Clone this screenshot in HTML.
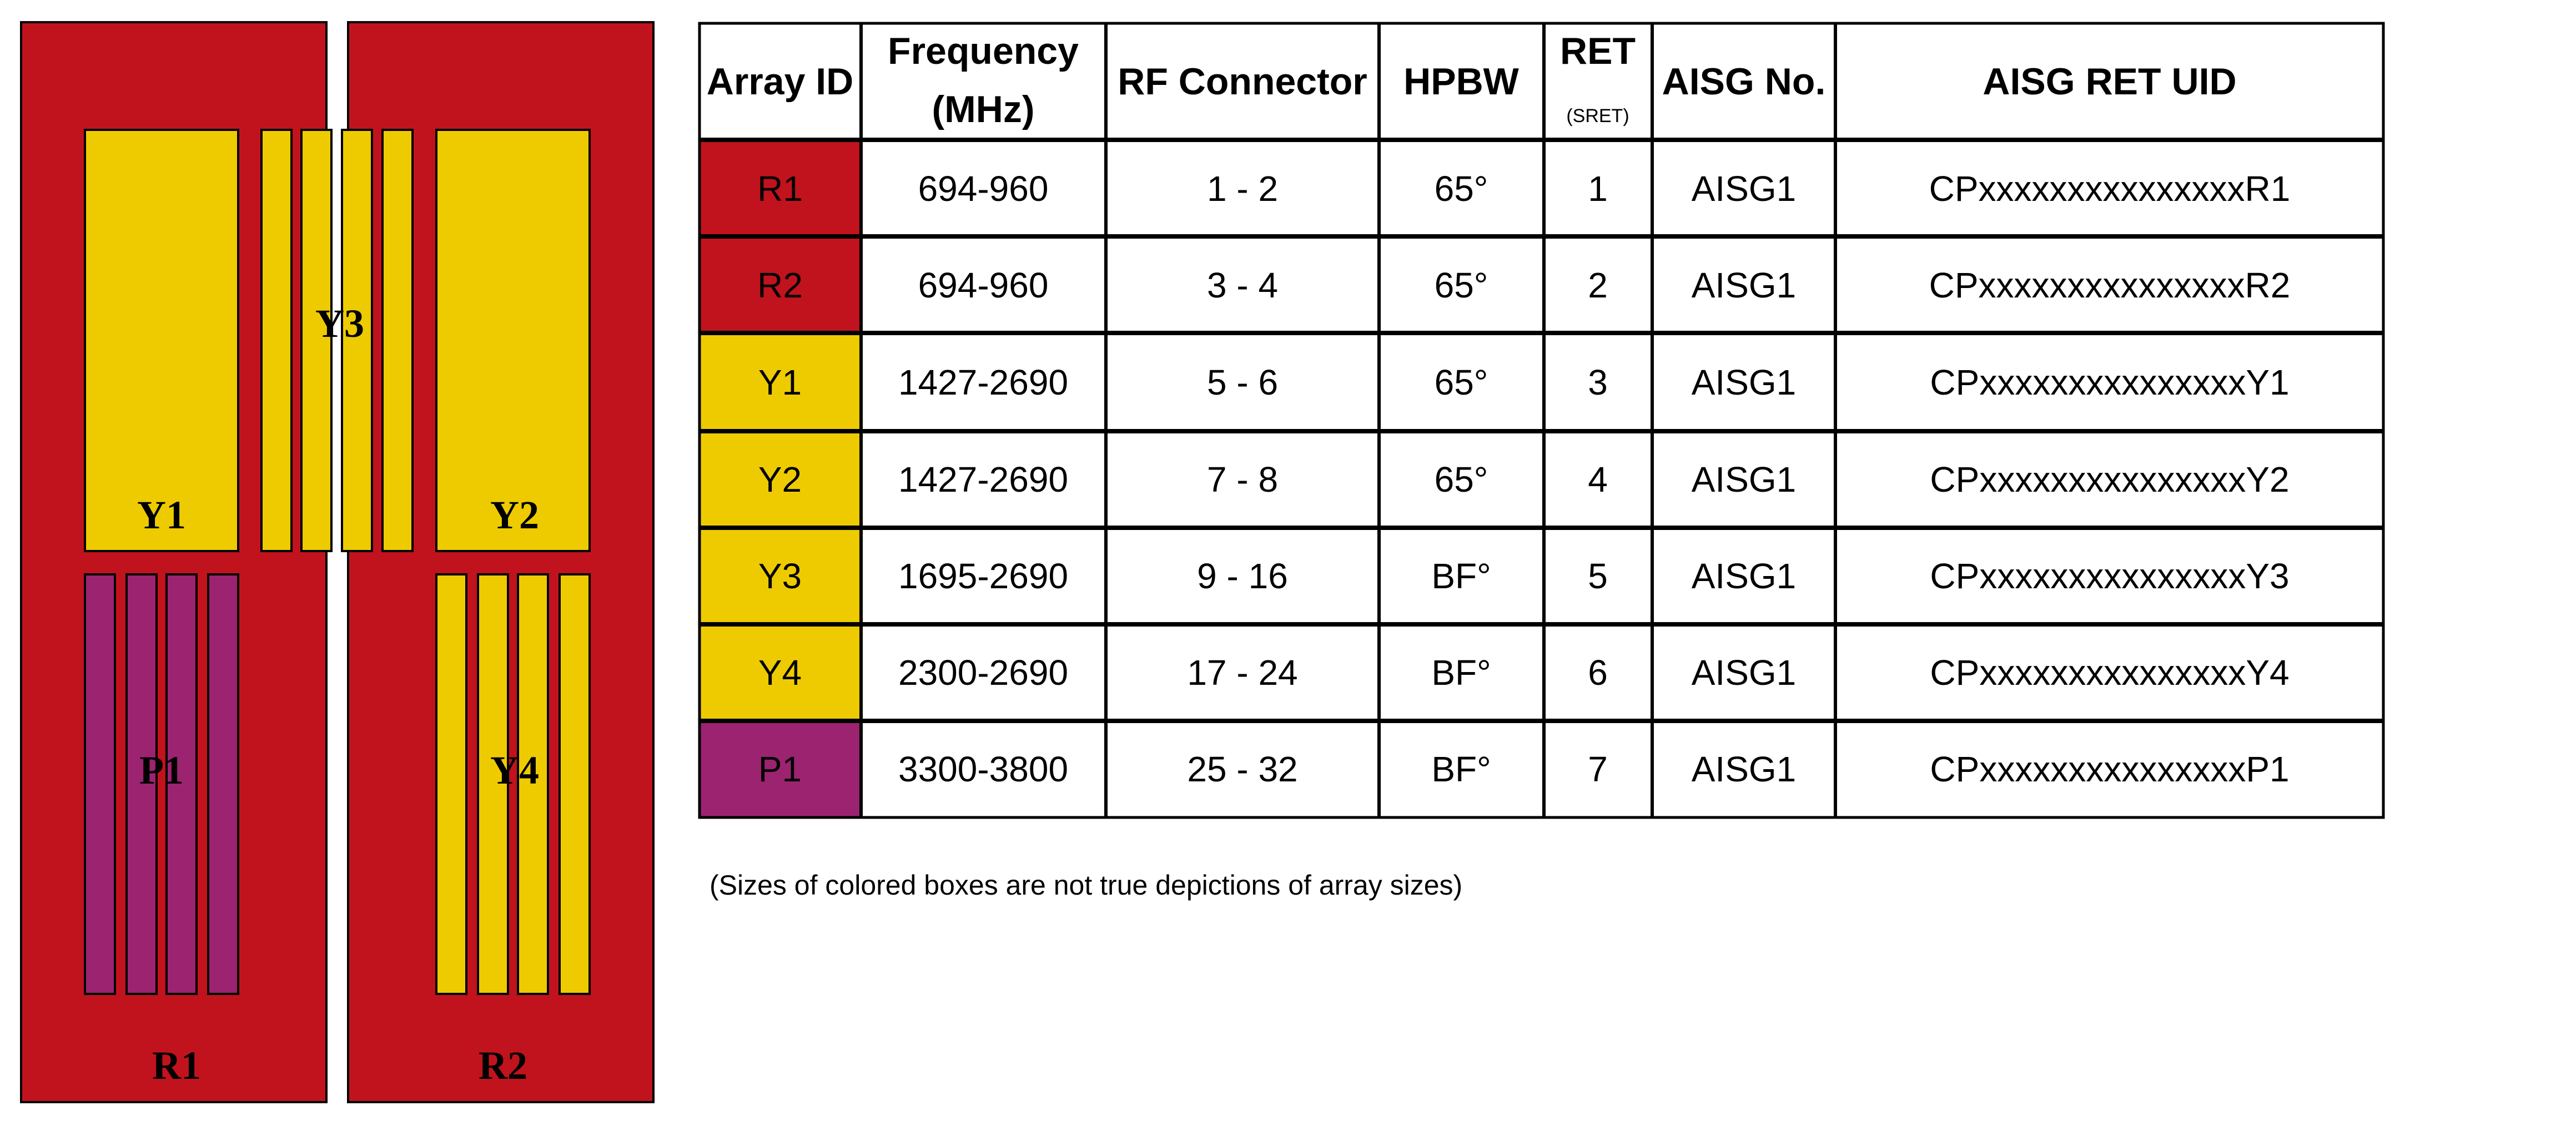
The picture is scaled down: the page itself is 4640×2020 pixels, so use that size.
<!DOCTYPE html>
<html><head><meta charset="utf-8"><style>
html,body{margin:0;padding:0;background:#fff;}
svg{display:block}
.lab{font-family:"Liberation Serif",serif;font-weight:bold;font-size:72px;fill:#000;text-anchor:middle}
.h{font-family:"Liberation Sans",sans-serif;font-weight:600;font-size:68px;fill:#000;text-anchor:middle}
.c{font-family:"Liberation Sans",sans-serif;font-size:64px;fill:#000;text-anchor:middle}
</style></head><body>
<svg width="4640" height="2020" viewBox="0 0 4640 2020" xmlns="http://www.w3.org/2000/svg">
<g stroke="#000" stroke-width="4">
<rect x="38" y="40" width="550" height="1946" fill="#C1131D"/>
<rect x="627" y="40" width="550" height="1946" fill="#C1131D"/>
<g fill="#EECB00">
<rect x="153" y="234" width="276" height="759"/>
<rect x="471" y="234" width="54" height="759"/>
<rect x="543" y="234" width="54" height="759"/>
<rect x="616" y="234" width="54" height="759"/>
<rect x="689" y="234" width="54" height="759"/>
<rect x="786" y="234" width="276" height="759"/>
<rect x="786" y="1035" width="54" height="756"/>
<rect x="861" y="1035" width="54" height="756"/>
<rect x="933" y="1035" width="54" height="756"/>
<rect x="1008" y="1035" width="54" height="756"/>
</g>
<g fill="#9B2370">
<rect x="153" y="1035" width="54" height="756"/>
<rect x="228" y="1035" width="54" height="756"/>
<rect x="300" y="1035" width="54" height="756"/>
<rect x="375" y="1035" width="54" height="756"/>
</g>
</g>
<text class="lab" x="291" y="952">Y1</text>
<text class="lab" x="927" y="952">Y2</text>
<text class="lab" x="612" y="607">Y3</text>
<text class="lab" x="291" y="1412">P1</text>
<text class="lab" x="927" y="1412">Y4</text>
<text class="lab" x="318" y="1944">R1</text>
<text class="lab" x="906" y="1944">R2</text>

<!-- table cell fills -->
<rect x="1260" y="252" width="291" height="348" fill="#C1131D"/>
<rect x="1260" y="600" width="291" height="699" fill="#EECB00"/>
<rect x="1260" y="1299" width="291" height="174" fill="#9B2370"/>
<g stroke="#000" stroke-width="6" fill="none">
<rect x="1260" y="42" width="3033" height="1431" stroke-width="5"/>
<line x1="1551" y1="40" x2="1551" y2="1474"/>
<line x1="1992" y1="40" x2="1992" y2="1474"/>
<line x1="2484" y1="40" x2="2484" y2="1474"/>
<line x1="2781" y1="40" x2="2781" y2="1474"/>
<line x1="2976" y1="40" x2="2976" y2="1474"/>
<line x1="3306" y1="40" x2="3306" y2="1474"/>
<line x1="1258" y1="252" x2="4295" y2="252" stroke-width="8"/>
<line x1="1258" y1="426" x2="4295" y2="426" stroke-width="8"/>
<line x1="1258" y1="600" x2="4295" y2="600" stroke-width="8"/>
<line x1="1258" y1="777" x2="4295" y2="777" stroke-width="8"/>
<line x1="1258" y1="951" x2="4295" y2="951" stroke-width="8"/>
<line x1="1258" y1="1125" x2="4295" y2="1125" stroke-width="8"/>
<line x1="1258" y1="1299" x2="4295" y2="1299" stroke-width="8"/>
</g>
<text class="h" x="1405" y="170">Array ID</text>
<text class="h" x="1771" y="115">Frequency</text>
<text class="h" x="1771" y="220">(MHz)</text>
<text class="h" x="2238" y="170">RF Connector</text>
<text class="h" x="2632" y="170">HPBW</text>
<text class="h" x="2878" y="115">RET</text>
<text class="c" x="2878" y="220" style="font-size:34px">(SRET)</text>
<text class="h" x="3141" y="170">AISG No.</text>
<text class="h" x="3800" y="170">AISG RET UID</text>

<g class="c">
<text class="c" x="1405" y="362">R1</text><text class="c" x="1771" y="362">694-960</text><text class="c" x="2238" y="362">1 - 2</text><text class="c" x="2632" y="362">65°</text><text class="c" x="2878" y="362">1</text><text class="c" x="3141" y="362">AISG1</text><text class="c" x="3800" y="362">CPxxxxxxxxxxxxxxxR1</text>
<text class="c" x="1405" y="536">R2</text><text class="c" x="1771" y="536">694-960</text><text class="c" x="2238" y="536">3 - 4</text><text class="c" x="2632" y="536">65°</text><text class="c" x="2878" y="536">2</text><text class="c" x="3141" y="536">AISG1</text><text class="c" x="3800" y="536">CPxxxxxxxxxxxxxxxR2</text>
<text class="c" x="1405" y="711">Y1</text><text class="c" x="1771" y="711">1427-2690</text><text class="c" x="2238" y="711">5 - 6</text><text class="c" x="2632" y="711">65°</text><text class="c" x="2878" y="711">3</text><text class="c" x="3141" y="711">AISG1</text><text class="c" x="3800" y="711">CPxxxxxxxxxxxxxxxY1</text>
<text class="c" x="1405" y="886">Y2</text><text class="c" x="1771" y="886">1427-2690</text><text class="c" x="2238" y="886">7 - 8</text><text class="c" x="2632" y="886">65°</text><text class="c" x="2878" y="886">4</text><text class="c" x="3141" y="886">AISG1</text><text class="c" x="3800" y="886">CPxxxxxxxxxxxxxxxY2</text>
<text class="c" x="1405" y="1060">Y3</text><text class="c" x="1771" y="1060">1695-2690</text><text class="c" x="2238" y="1060">9 - 16</text><text class="c" x="2632" y="1060">BF°</text><text class="c" x="2878" y="1060">5</text><text class="c" x="3141" y="1060">AISG1</text><text class="c" x="3800" y="1060">CPxxxxxxxxxxxxxxxY3</text>
<text class="c" x="1405" y="1234">Y4</text><text class="c" x="1771" y="1234">2300-2690</text><text class="c" x="2238" y="1234">17 - 24</text><text class="c" x="2632" y="1234">BF°</text><text class="c" x="2878" y="1234">6</text><text class="c" x="3141" y="1234">AISG1</text><text class="c" x="3800" y="1234">CPxxxxxxxxxxxxxxxY4</text>
<text class="c" x="1405" y="1408">P1</text><text class="c" x="1771" y="1408">3300-3800</text><text class="c" x="2238" y="1408">25 - 32</text><text class="c" x="2632" y="1408">BF°</text><text class="c" x="2878" y="1408">7</text><text class="c" x="3141" y="1408">AISG1</text><text class="c" x="3800" y="1408">CPxxxxxxxxxxxxxxxP1</text>
</g>
<text x="1278" y="1612" style="font-family:'Liberation Sans',sans-serif;font-size:50px;fill:#000">(Sizes of colored boxes are not true depictions of array sizes)</text>
</svg>
</body></html>
